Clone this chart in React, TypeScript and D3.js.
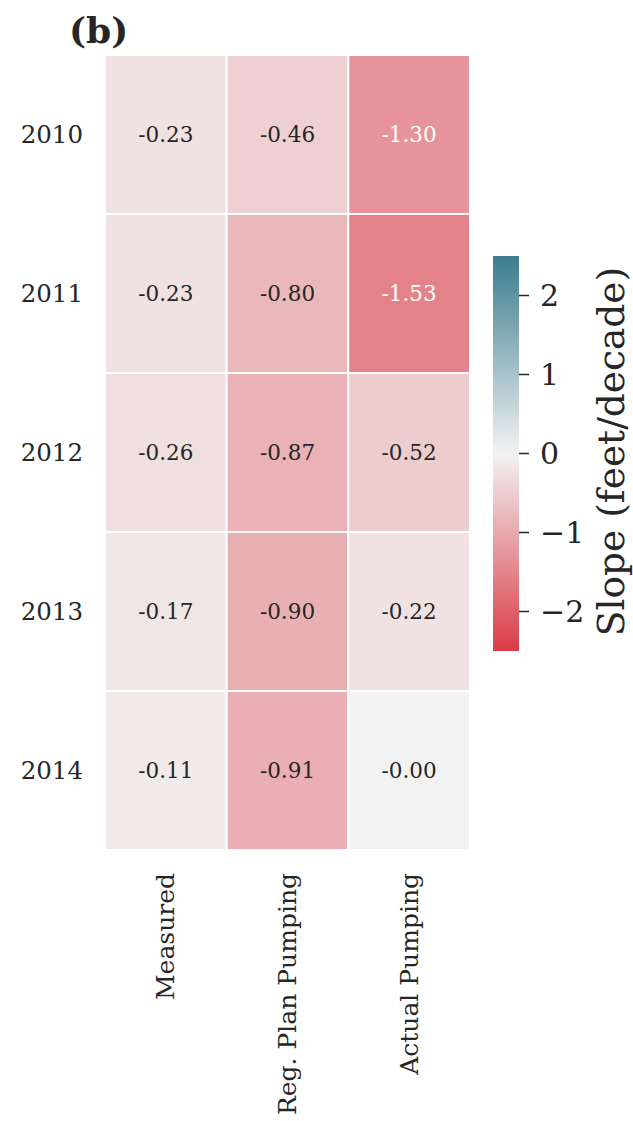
import React from "react";
import * as d3 from "d3";

const years = ["2010", "2011", "2012", "2013", "2014"];
const columns = ["Measured", "Reg. Plan Pumping", "Actual Pumping"];
const measured = [-0.23, -0.23, -0.26, -0.17, -0.11];
const regPlan = [-0.46, -0.8, -0.87, -0.9, -0.91];
const actual = [-1.3, -1.53, -0.52, -0.22, -0.001];
const cbTicks = [-2, -1, 0, 1, 2];
const vmin = -2.5;
const vmax = 2.5;

const W = 633;
const H = 1121;
const FONT = "'DejaVu Serif', serif";

export default function App() {
  const series = [measured, regPlan, actual];
  const cells = years.flatMap((yr, i) =>
    columns.map((c, j) => ({ yr, c, v: series[j][i] }))
  );

  const x = d3.scaleBand<string>().domain(columns).range([105, 470]);
  const y = d3.scaleBand<string>().domain(years).range([55, 850]);
  const color = d3
    .scaleLinear<string>()
    .domain([vmin, 0, vmax])
    .range(["#da3b47", "#f2f2f2", "#3b7c8d"])
    .interpolate(d3.interpolateRgb);

  const lum = (c: string) => {
    const r = d3.rgb(c);
    const f = (v: number) => {
      v = v / 255;
      return v <= 0.03928 ? v / 12.92 : Math.pow((v + 0.055) / 1.055, 2.4);
    };
    return 0.2126 * f(r.r) + 0.7152 * f(r.g) + 0.0722 * f(r.b);
  };

  const cbX = 493;
  const cbW = 26;
  const cbY = d3.scaleLinear().domain([vmin, vmax]).range([651, 256]);
  const gradStops = d3.range(0, 1.0001, 0.05);

  return (
    <svg
      width={W}
      height={H}
      style={{ position: "absolute", left: 0, top: 0, background: "#fff" }}
      fontFamily={FONT}
    >
      <defs>
        <linearGradient id="cb" x1="0" y1="1" x2="0" y2="0">
          {gradStops.map((t) => (
            <stop key={t} offset={t} stopColor={color(vmin + t * (vmax - vmin))} />
          ))}
        </linearGradient>
      </defs>
      <text x={69} y={43} fontSize={36} fontWeight="bold" fill="#262626">
        (b)
      </text>
      {cells.map((d) => {
        const fill = color(d.v);
        return (
          <g key={d.yr + d.c}>
            <rect
              x={x(d.c)!}
              y={y(d.yr)!}
              width={x.bandwidth()}
              height={y.bandwidth()}
              fill={fill}
              stroke="#fff"
              strokeWidth={2}
            />
            <text
              x={x(d.c)! + x.bandwidth() / 2}
              y={y(d.yr)! + y.bandwidth() / 2}
              textAnchor="middle"
              dominantBaseline="central"
              fontSize={21.5}
              fill={lum(fill) < 0.408 ? "#ffffff" : "#262626"}
            >
              {d.v.toFixed(2)}
            </text>
          </g>
        );
      })}
      {years.map((yr) => (
        <text
          key={yr}
          x={83}
          y={y(yr)! + y.bandwidth() / 2}
          textAnchor="end"
          dominantBaseline="central"
          fontSize={24.5}
          fill="#262626"
        >
          {yr}
        </text>
      ))}
      {columns.map((c) => (
        <text
          key={c}
          transform={`translate(${x(c)! + x.bandwidth() / 2},873) rotate(-90)`}
          textAnchor="end"
          dominantBaseline="central"
          fontSize={25}
          fill="#262626"
        >
          {c}
        </text>
      ))}
      <rect x={cbX} y={cbY(vmax)} width={cbW} height={cbY(vmin) - cbY(vmax)} fill="url(#cb)" />
      {cbTicks.map((t) => (
        <g key={t}>
          <line x1={cbX + cbW} x2={cbX + cbW + 10} y1={cbY(t)} y2={cbY(t)} stroke="#262626" strokeWidth={1.5} />
          <text
            x={cbX + cbW + 21}
            y={cbY(t)}
            dominantBaseline="central"
            fontSize={30}
            fill="#262626"
          >
            {t < 0 ? "\u2212" + Math.abs(t) : String(t)}
          </text>
        </g>
      ))}
      <text
        transform={`translate(611,${(635 + 268) / 2}) rotate(-90)`}
        textAnchor="middle"
        dominantBaseline="central"
        fontSize={37.5}
        fill="#262626"
      >
        Slope (feet/decade)
      </text>
    </svg>
  );
}
